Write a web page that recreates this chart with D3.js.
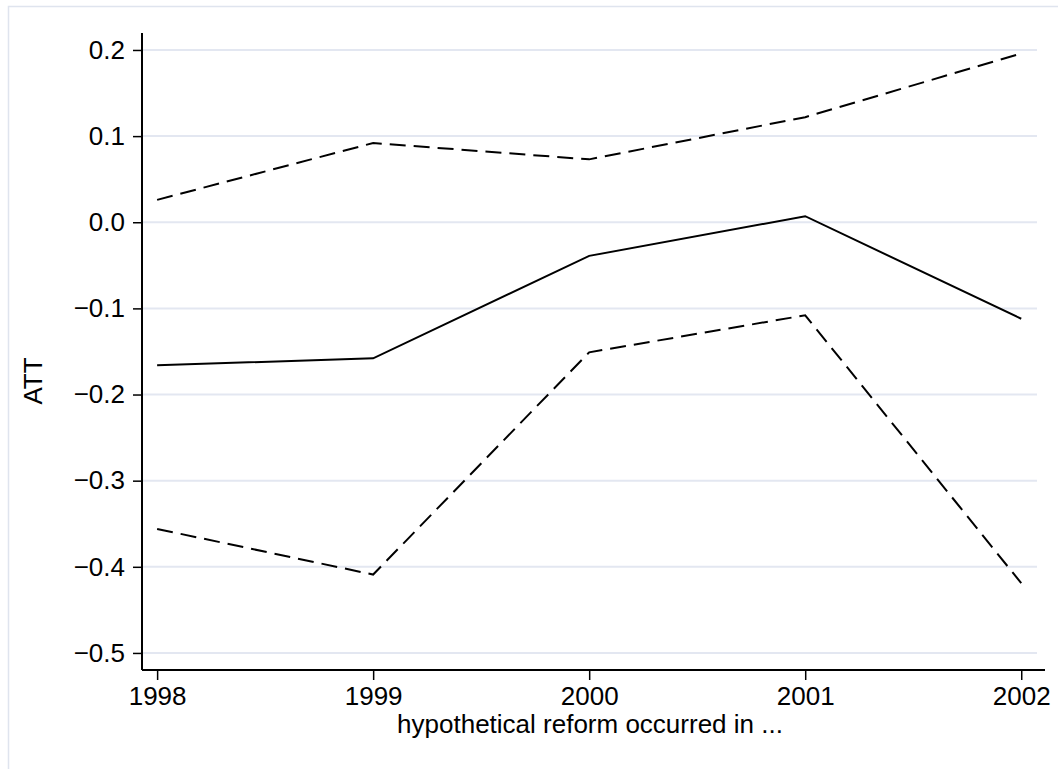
<!DOCTYPE html>
<html>
<head>
<meta charset="utf-8">
<script src="https://cdn.jsdelivr.net/npm/d3@7"></script>
<style>
  body { margin: 0; background: #fff; }
  svg { display: block; }
</style>
</head>
<body>
<div id="chart"></div>
<script>
var years = [1998, 1999, 2000, 2001, 2002];
var att   = [-0.166, -0.158, -0.039, 0.007, -0.112];
var upper = [0.026, 0.092, 0.073, 0.122, 0.196];
var lower = [-0.356, -0.409, -0.151, -0.108, -0.419];
var yTicks = [0.2, 0.1, 0.0, -0.1, -0.2, -0.3, -0.4, -0.5];

var w = 1058, h = 769;
var font = "Liberation Sans, Arial, sans-serif";
var svg = d3.select("#chart").append("svg").attr("width", w).attr("height", h);

// outer frame, runs off the page on right and bottom
svg.append("rect")
  .attr("x", 8.5).attr("y", 6.5)
  .attr("width", 1100).attr("height", 800)
  .attr("fill", "none")
  .attr("stroke", "#dfe4ee")
  .attr("stroke-width", 1.5);

var x = d3.scaleLinear().domain([1997.93, 2002.11]).range([142, 1045]);
var y = d3.scaleLinear().domain([-0.5198, 0.2197]).range([670, 33]);

var fmt = function(d) {
  var s = d3.format(".1f")(Math.abs(d));
  return d < 0 ? "\u2212" + s : s;
};

// grid lines
svg.append("g").selectAll("line")
  .data(yTicks)
  .enter().append("line")
  .attr("x1", 143).attr("x2", 1037)
  .attr("y1", function(d) { return y(d); })
  .attr("y2", function(d) { return y(d); })
  .attr("stroke", "#e3e7f1")
  .attr("stroke-width", 2);

// y axis
var yAxis = svg.append("g")
  .attr("transform", "translate(142,0)")
  .call(d3.axisLeft(y).tickValues(yTicks).tickFormat(fmt).tickSize(9).tickPadding(8));
yAxis.select(".domain").attr("d", "M0," + y.range()[1] + "V" + y.range()[0]).attr("stroke-width", 2);
yAxis.selectAll(".tick line").attr("stroke-width", 1.5);
yAxis.selectAll("text")
  .attr("font-family", font)
  .attr("font-size", 26)
  .attr("fill", "#000");

// x axis
var xAxis = svg.append("g")
  .attr("transform", "translate(0,670)")
  .call(d3.axisBottom(x).tickValues(years).tickFormat(d3.format("d")).tickSize(10).tickPadding(7));
xAxis.select(".domain").attr("d", "M" + x.range()[0] + ",0H" + x.range()[1]).attr("stroke-width", 2);
xAxis.selectAll(".tick line").attr("stroke-width", 1.5);
xAxis.selectAll("text")
  .attr("font-family", font)
  .attr("font-size", 26)
  .attr("fill", "#000");

// axis titles
svg.append("text")
  .text("ATT")
  .attr("transform", "translate(42,381) rotate(-90)")
  .attr("text-anchor", "middle")
  .attr("font-family", font)
  .attr("font-size", 26);

svg.append("text")
  .text("hypothetical reform occurred in ...")
  .attr("x", 590).attr("y", 733)
  .attr("text-anchor", "middle")
  .attr("font-family", font)
  .attr("font-size", 26);

// lines
function drawline(vals, dash) {
  var line = d3.line()
    .x(function(d, i) { return x(years[i]); })
    .y(function(d) { return y(d); });
  return svg.append("path")
    .datum(vals)
    .attr("d", line)
    .attr("fill", "none")
    .attr("stroke", "#000")
    .attr("stroke-width", 2)
    .attr("stroke-dasharray", dash);
}

drawline(upper, "16,8");
drawline(lower, "16,8");
drawline(att, null);
</script>
</body>
</html>
